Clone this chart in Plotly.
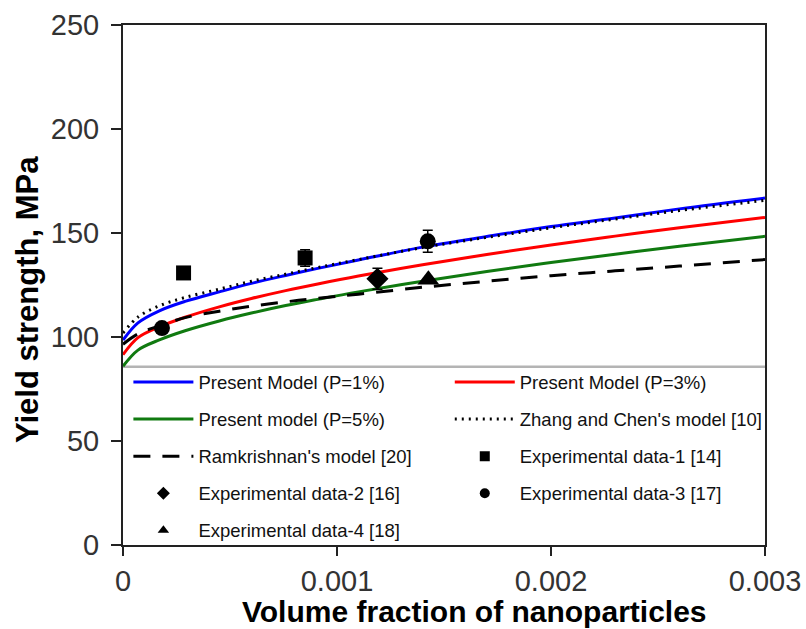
import plotly.graph_objects as go

# Volume fraction grid used for the model curves
vol_frac = [0, 0.00007, 0.00017, 0.00029, 0.00045, 0.0006, 0.00076, 0.00091,
            0.0011, 0.0014, 0.0017, 0.002, 0.0023, 0.0026, 0.003]

# Model predictions of yield strength (MPa)
present_p1 = [98.5, 106.8, 112.6, 117.1, 121.7, 125.8, 129.6, 133.0,
              137.0, 143.2, 148.3, 153.1, 157.2, 161.6, 166.8]
present_p3 = [91.5, 99.7, 104.9, 109.5, 114.5, 118.5, 122.3, 125.5,
              129.3, 134.7, 139.7, 144.2, 148.5, 152.5, 157.5]
present_p5 = [85.9, 93.7, 98.6, 103.0, 107.7, 111.5, 115.1, 118.1,
              121.7, 126.8, 131.5, 135.8, 139.8, 143.6, 148.4]
zhang_chen = [101.9, 109.6, 115.0, 119.0, 123.0, 126.8, 130.2, 133.4,
              137.2, 143.0, 147.9, 152.5, 156.7, 160.8, 165.7]
ramakrishnan = [96.5, 101.5, 105.3, 109.3, 112.4, 114.8, 116.9, 118.6,
                120.6, 123.9, 126.8, 129.5, 131.8, 134.1, 137.2]

# Experimental data (volume fraction, yield strength, error)
exp1_x = [0.000283, 0.000851]
exp1_y = [130.8, 138.0]
exp1_err = [float("nan"), 4.0]
exp2_x = [0.001189]
exp2_y = [128.0]
exp2_err = [5.0]
exp3_x = [0.000182, 0.001424]
exp3_y = [104.3, 146.0]
exp3_err = [float("nan"), 5.3]
exp4_x = [0.001427]
exp4_y = [127.5]

x_ticks = [0, 0.001, 0.002, 0.003]
x_tick_text = ["0", "0.001", "0.002", "0.003"]
y_ticks = [0, 50, 100, 150, 200, 250]

legend_floor = 85.7  # top edge of the legend panel, in MPa

FONT = "Liberation Sans, Arial, sans-serif"

fig = go.Figure()


def curve(y, name, color, dash, legend):
    return go.Scatter(x=vol_frac, y=y, mode="lines", name=name, legendgroup=name,
                      line=dict(color=color, width=3, dash=dash, shape="spline"), legend=legend)


fig.add_trace(curve(present_p1, "Present Model (P=1%)", "#0000FF", "solid", "legend"))
fig.add_trace(curve(present_p3, "Present Model (P=3%)", "#FF0000", "solid", "legend2"))
fig.add_trace(curve(present_p5, "Present model (P=5%)", "#107A10", "solid", "legend"))
fig.add_trace(curve(zhang_chen, "Zhang and Chen's model [10]", "#000000", "2px,5px", "legend2"))
fig.add_trace(curve(ramakrishnan, "Ramkrishnan's model [20]", "#000000", "17px,12px", "legend"))

# error bars drawn as their own traces so legend symbols stay plain
for ex, ey, ee in [(exp1_x, exp1_y, exp1_err), (exp2_x, exp2_y, exp2_err), (exp3_x, exp3_y, exp3_err)]:
    fig.add_trace(go.Scatter(x=ex, y=ey, mode="markers", showlegend=False, hoverinfo="skip",
                             marker=dict(size=2, color="rgba(0,0,0,0)"),
                             error_y=dict(type="data", array=ee, color="#000000",
                                          thickness=1.5, width=5)))


def points(x, y, name, symbol, size, key_size, legend):
    # plotted markers, plus an empty twin carrying the smaller legend key
    fig.add_trace(go.Scatter(x=x, y=y, mode="markers", name=name, legendgroup=name,
                             showlegend=False,
                             marker=dict(symbol=symbol, size=size, color="#000000")))
    fig.add_trace(go.Scatter(x=[None], y=[None], mode="markers", name=name, legendgroup=name,
                             marker=dict(symbol=symbol, size=key_size, color="#000000"),
                             legend=legend))


points(exp1_x, exp1_y, "Experimental data-1 [14]", "square", 15, 10, "legend2")
points(exp2_x, exp2_y, "Experimental data-2 [16]", "diamond", 17, 10, "legend")
points(exp3_x, exp3_y, "Experimental data-3 [17]", "circle", 16, 10, "legend2")
points(exp4_x, exp4_y, "Experimental data-4 [18]", "triangle-up", 19, 10, "legend")

# legend panel top edge
fig.add_shape(type="line", xref="x domain", yref="y", x0=0, x1=1,
              y0=legend_floor, y1=legend_floor, line=dict(color="#B4B4B4", width=2.5),
              layer="below")

legend_common = dict(orientation="v", xanchor="left", yanchor="top", bgcolor="rgba(0,0,0,0)",
                     borderwidth=0, itemwidth=60, tracegroupgap=10,
                     font=dict(family=FONT, size=18.5, color="#111111"),
                     traceorder="grouped", itemclick=False, itemdoubleclick=False)

axis_common = dict(showgrid=False, zeroline=False, showline=True, linecolor="#222222",
                   linewidth=2, mirror=True, ticks="outside", tickwidth=2, tickcolor="#222222",
                   automargin=False, tickfont=dict(family=FONT, size=29, color="#333333"))

fig.update_layout(
    width=806, height=629,
    margin=dict(l=123, r=41, t=25, b=84),
    paper_bgcolor="white", plot_bgcolor="white",
    legend=dict(x=0.0084, y=0.349, **legend_common),
    legend2=dict(x=0.509, y=0.349, **legend_common),
    xaxis=dict(range=[0, 0.003], tickvals=x_ticks, ticktext=x_tick_text, ticklen=9,
               **axis_common),
    yaxis=dict(range=[0, 250], tickvals=y_ticks, ticklen=10, ticklabelstandoff=6,
               **axis_common),
    annotations=[
        dict(text="<b>Volume fraction of nanoparticles</b>", xref="paper", yref="paper",
             x=0.548, y=-0.127, xanchor="center", yanchor="middle", showarrow=False,
             font=dict(family=FONT, size=30, color="#000000")),
        dict(text="<b>Yield strength, MPa</b>", xref="paper", yref="paper",
             x=-0.149, y=0.4717, xanchor="center", yanchor="middle", showarrow=False,
             textangle=-90, font=dict(family=FONT, size=31, color="#000000")),
    ],
)

fig.write_html("out.html")
